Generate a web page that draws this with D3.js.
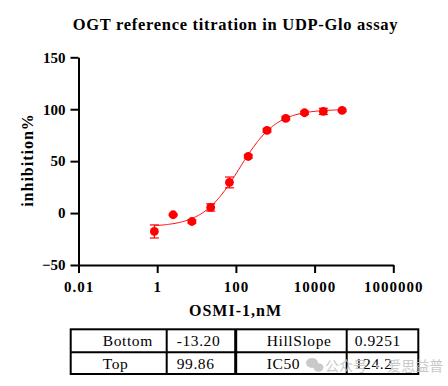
<!DOCTYPE html>
<html>
<head>
<meta charset="utf-8">
<script src="https://cdn.jsdelivr.net/npm/d3@7"></script>
<style>
    body { margin: 0; background: #fff; }
    text { font-family: "Liberation Serif", "Times New Roman", serif; }
</style>
</head>
<body>
<div id="chart"></div>
<script>
/* global d3 */

// OSMI-1 concentration (nM), 3-fold dilution
var concentrations = [0.847, 2.54, 7.62, 22.9, 68.6, 206, 617, 1852, 5556, 16667, 50000];
var inhibition = [-17.7, -1.6, -8.1, 5.4, 29.5, 54.5, 79.6, 91.2, 96.6, 97.9, 98.8];
var errors = [6.3, 0.8, 1.5, 3.5, 5.2, 1.5, 1.5, 1.5, 1.5, 3.0, 1.0];

var xTicks = [0.01, 1, 100, 10000, 1000000];
var xTickLabels = ["0.01", "1", "100", "10000", "1000000"];
var yTicks = [-50, 0, 50, 100, 150];

// fit results shown in the table
var fitNames = ["Bottom", "Top", "HillSlope", "IC50"];
var fitValues = ["-13.20", "99.86", "0.9251", "124.2"];
var fitBottom = -13.20, fitTop = 99.86, hillSlope = 0.9251, ic50 = 124.2;

var width = 448, height = 386;
var red = "#ff0000";

var svg = d3.select("#chart").append("svg")
        .attr("width", width)
        .attr("height", height);

var x = d3.scaleLog()
        .domain([0.01, 1000000])
        .range([78.5, 393.3]);

var y = d3.scaleLinear()
        .domain([-50, 150])
        .range([265, 57.3]);

// title
svg.append("text")
        .attr("x", 235.5)
        .attr("y", 30)
        .attr("text-anchor", "middle")
        .style("font-size", "16.5px")
        .style("font-weight", "bold")
        .style("letter-spacing", "0.7px")
        .text("OGT reference titration in UDP-Glo assay");

// axes
var xAxis = d3.axisBottom(x)
        .tickValues(xTicks)
        .tickSize(8)
        .tickSizeOuter(0)
        .tickPadding(8.5)
        .tickFormat(function (d, i) {
            return xTickLabels[i];
        });

var yAxis = d3.axisLeft(y)
        .tickValues(yTicks)
        .tickSize(8)
        .tickSizeOuter(0)
        .tickPadding(5);

var gx = svg.append("g")
        .attr("transform", "translate(0," + y(-50) + ")")
        .call(xAxis);

var gy = svg.append("g")
        .attr("transform", "translate(" + x(0.01) + ",0)")
        .call(yAxis);

[gx, gy].forEach(function (g) {
    g.selectAll("path, line")
            .attr("stroke", "#000")
            .attr("stroke-width", 2);
    g.selectAll("text")
            .attr("fill", "#000")
            .style("font-family", "'Liberation Serif', serif")
            .style("font-size", "15px")
            .style("font-weight", "bold");
});
gx.selectAll("text").style("letter-spacing", "1px");

// axis titles
svg.append("text")
        .attr("transform", "translate(33,160) rotate(-90)")
        .attr("text-anchor", "middle")
        .style("font-size", "16px")
        .style("font-weight", "bold")
        .style("letter-spacing", "1px")
        .text("inhibition%");

svg.append("text")
        .attr("x", 235.5)
        .attr("y", 315.5)
        .attr("text-anchor", "middle")
        .style("font-size", "16px")
        .style("font-weight", "bold")
        .style("letter-spacing", "1px")
        .text("OSMI-1,nM");

// fitted curve from the table parameters
var lo = Math.log10(concentrations[0]), hi = Math.log10(concentrations[concentrations.length - 1]);
var curveX = d3.range(0, 201).map(function (i) {
    return Math.pow(10, lo + (hi - lo) * i / 200);
});

var line = d3.line()
        .x(function (d) { return x(d); })
        .y(function (d) {
            return y(fitBottom + (fitTop - fitBottom) / (1 + Math.pow(ic50 / d, hillSlope)));
        });

svg.append("path")
        .datum(curveX)
        .attr("fill", "none")
        .attr("stroke", red)
        .attr("stroke-width", 1)
        .attr("d", line);

// points with error bars
var points = concentrations.map(function (c, i) {
    return {c: c, v: inhibition[i], e: errors[i]};
});

var pg = svg.append("g").selectAll("g")
        .data(points)
        .enter()
        .append("g");

pg.append("line")
        .attr("x1", function (d) { return x(d.c); })
        .attr("x2", function (d) { return x(d.c); })
        .attr("y1", function (d) { return y(d.v - d.e); })
        .attr("y2", function (d) { return y(d.v + d.e); })
        .attr("stroke", red)
        .attr("stroke-width", 1.2);

[-1, 1].forEach(function (s) {
    pg.append("line")
            .attr("x1", function (d) { return x(d.c) - 4.5; })
            .attr("x2", function (d) { return x(d.c) + 4.5; })
            .attr("y1", function (d) { return y(d.v + s * d.e); })
            .attr("y2", function (d) { return y(d.v + s * d.e); })
            .attr("stroke", red)
            .attr("stroke-width", 1.2);
});

pg.append("circle")
        .attr("cx", function (d) { return x(d.c); })
        .attr("cy", function (d) { return y(d.v); })
        .attr("r", 4.4)
        .attr("fill", red);

// parameter table
var colX = [70.7, 166.7, 235.7, 346.7, 418.3];
var rowY = [329.3, 352.3, 374];
var textOffset = [32, 10, 31, 8];

var tg = svg.append("g");
tg.append("rect")
        .attr("x", colX[0])
        .attr("y", rowY[0])
        .attr("width", colX[4] - colX[0])
        .attr("height", rowY[2] - rowY[0])
        .attr("fill", "none")
        .attr("stroke", "#000")
        .attr("stroke-width", 2);

tg.append("line")
        .attr("x1", colX[0]).attr("x2", colX[4])
        .attr("y1", rowY[1]).attr("y2", rowY[1])
        .attr("stroke", "#000").attr("stroke-width", 2);

[1, 2, 3].forEach(function (k) {
    tg.append("line")
            .attr("x1", colX[k]).attr("x2", colX[k])
            .attr("y1", rowY[0]).attr("y2", rowY[2])
            .attr("stroke", "#000")
            .attr("stroke-width", k === 2 ? 3 : 2);
});

var cells = [
    [fitNames[0], fitValues[0], fitNames[2], fitValues[2]],
    [fitNames[1], fitValues[1], fitNames[3], fitValues[3]]
];

cells.forEach(function (row, r) {
    row.forEach(function (txt, c) {
        tg.append("text")
                .attr("x", colX[c] + textOffset[c])
                .attr("y", rowY[r] + 16.3)
                .style("font-size", "15.5px")
                .style("letter-spacing", "0.6px")
                .attr("fill", "#000")
                .text(txt);
    });
});

// watermark
var wm = svg.append("g").attr("fill", "#c4c4c4").attr("opacity", 0.9);
wm.append("ellipse").attr("cx", 312).attr("cy", 363).attr("rx", 6).attr("ry", 5);
wm.append("ellipse").attr("cx", 318.5).attr("cy", 367.5).attr("rx", 5).attr("ry", 4.2);
wm.append("text")
        .attr("x", 325)
        .attr("y", 371)
        .style("font-family", "'Noto Sans CJK SC', sans-serif")
        .style("font-size", "14px")
        .text("公众号 · 爱思益普");
</script>
</body>
</html>
